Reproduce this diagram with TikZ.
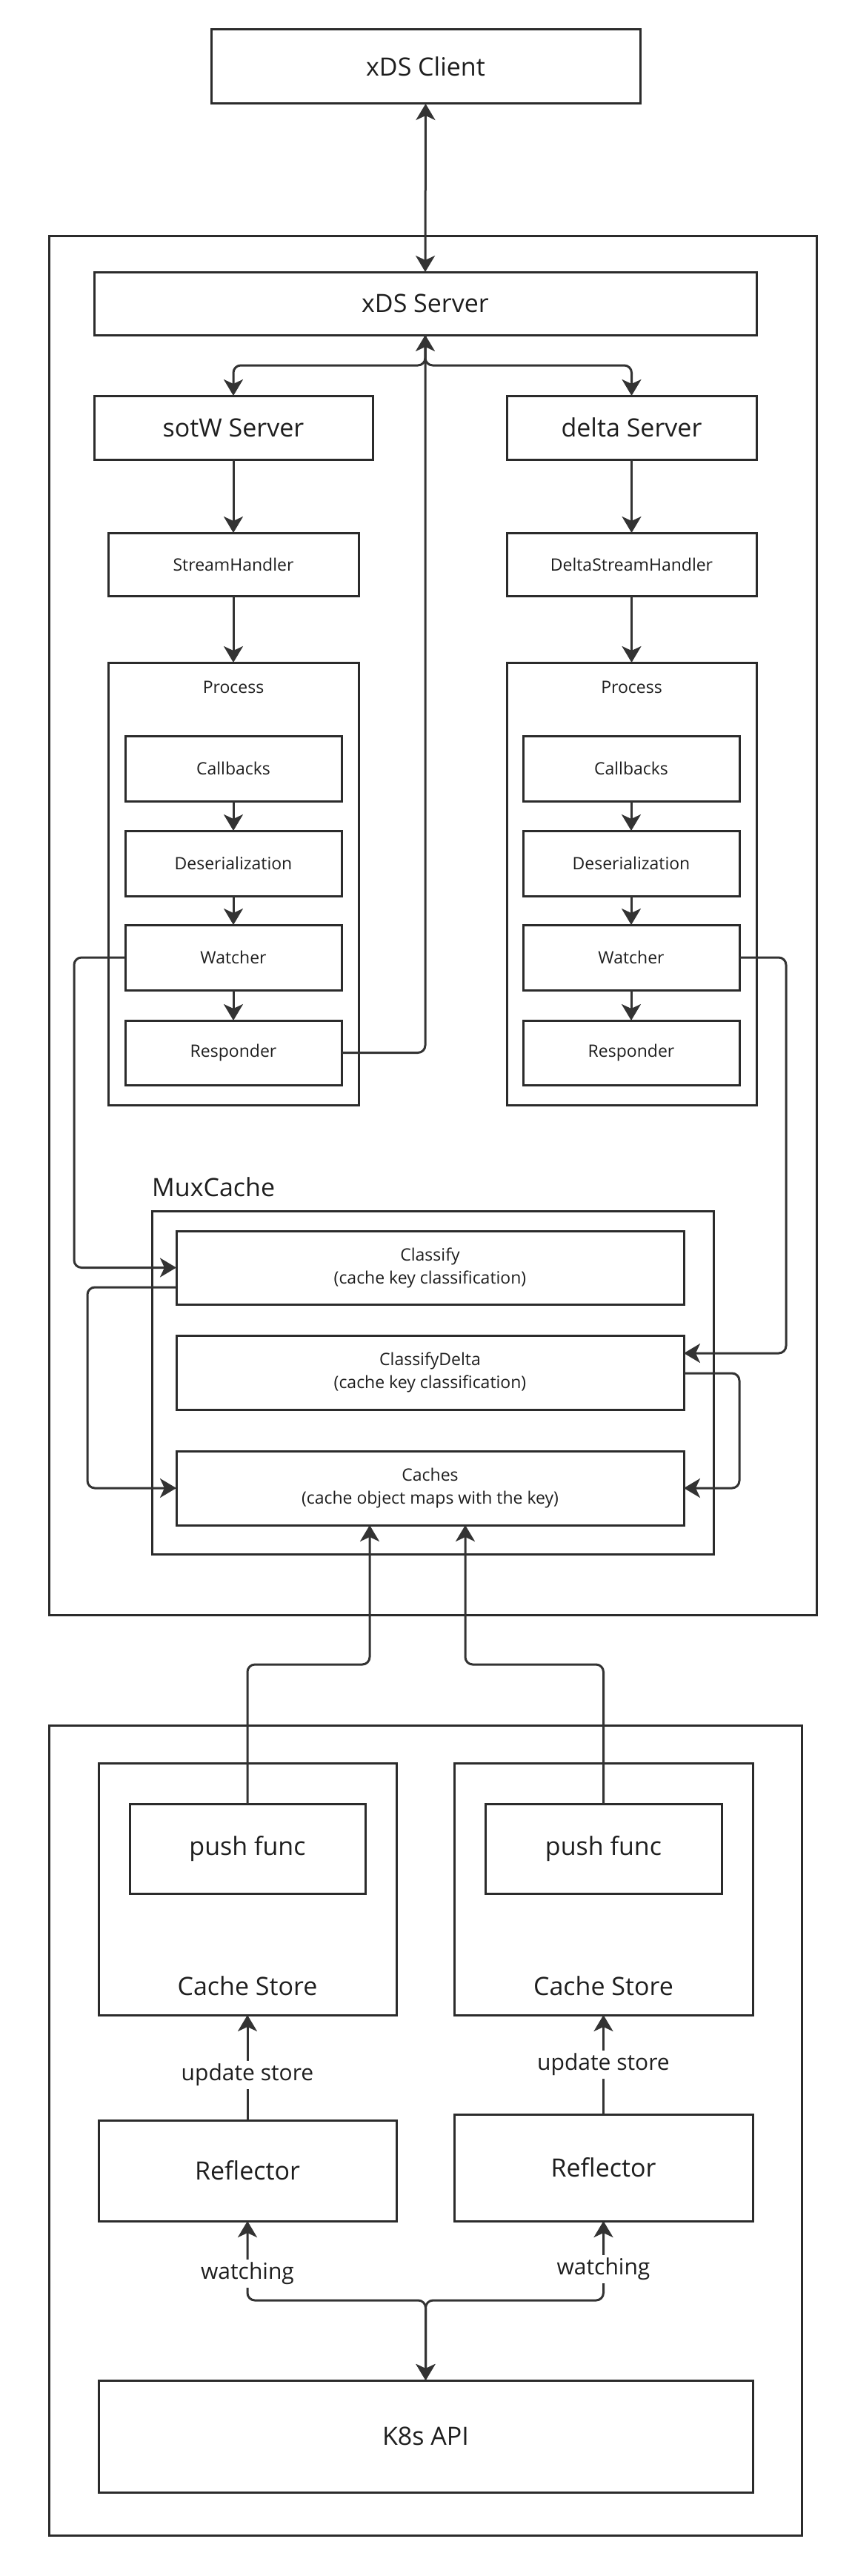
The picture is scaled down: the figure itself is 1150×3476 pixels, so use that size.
\documentclass[tikz,border=0pt]{standalone}
\usepackage{fontspec}
\setmainfont{Open Sans}
\usetikzlibrary{arrows.meta,calc}
\definecolor{ln}{HTML}{2B2B2B}
\definecolor{cn}{HTML}{333333}
\definecolor{tx}{HTML}{1E1E1E}
\begin{document}
\begin{tikzpicture}[x=1pt,y=-1pt,
  box/.style={draw=ln,line width=3pt,rectangle,inner sep=0pt,outer sep=0pt,text=tx,align=center},
  big/.style={font=\fontsize{34}{40}\selectfont},
  small/.style={font=\fontsize{23}{31}\selectfont},
  lbl/.style={text=tx,inner sep=4pt,fill=white,font=\fontsize{30}{36}\selectfont},
  conn/.style={draw=cn,line width=3pt,rounded corners=10pt,-{Stealth[length=22pt,width=26pt,inset=6pt]}},
  dconn/.style={draw=cn,line width=3pt,rounded corners=10pt,{Stealth[length=22pt,width=26pt,inset=6pt]}-{Stealth[length=22pt,width=26pt,inset=6pt]}}]
\useasboundingbox (0,0) rectangle (1150,3476);

% outer frames
\node[box,minimum width=1036pt,minimum height=1861pt] (outerA) at (584,1248.5) {};
\node[box,minimum width=1016pt,minimum height=1093pt] (outerB) at (574,2874.5) {};

% top
\node[box,big,minimum width=579pt,minimum height=100pt] (client) at (574.5,90) {xDS Client};
\node[box,big,minimum width=894pt,minimum height=85pt] (xds) at (574,409.5) {xDS Server};
\node[box,big,minimum width=376pt,minimum height=86pt] (sotw) at (315,577) {sotW Server};
\node[box,big,minimum width=337pt,minimum height=86pt] (delta) at (852.5,577) {delta Server};
\node[box,small,minimum width=338pt,minimum height=85pt] (sh) at (315,761.5) {StreamHandler};
\node[box,small,minimum width=337pt,minimum height=85pt] (dsh) at (852.5,761.5) {DeltaStreamHandler};

% process boxes
\node[box,minimum width=338pt,minimum height=597pt] (procL) at (315,1192.5) {};
\node[box,minimum width=337pt,minimum height=597pt] (procR) at (852.5,1192.5) {};
\node[small,text=tx] (procLt) at (315,927) {Process};
\node[small,text=tx] (procRt) at (852.5,927) {Process};

\node[box,small,minimum width=292pt,minimum height=88pt] (cbL) at (315,1037) {Callbacks};
\node[box,small,minimum width=292pt,minimum height=88pt] (desL) at (315,1165) {Deserialization};
\node[box,small,minimum width=292pt,minimum height=88pt] (watL) at (315,1292) {Watcher};
\node[box,small,minimum width=292pt,minimum height=87pt] (respL) at (315,1420.5) {Responder};

\node[box,small,minimum width=292pt,minimum height=88pt] (cbR) at (852,1037) {Callbacks};
\node[box,small,minimum width=292pt,minimum height=88pt] (desR) at (852,1165) {Deserialization};
\node[box,small,minimum width=292pt,minimum height=88pt] (watR) at (852,1292) {Watcher};
\node[box,small,minimum width=292pt,minimum height=87pt] (respR) at (852,1420.5) {Responder};

% MuxCache
\node[big,text=tx,anchor=west,inner sep=0pt] (muxt) at (205,1602) {MuxCache};
\node[box,minimum width=758pt,minimum height=463pt] (mux) at (584,1865.5) {};
\node[box,small,minimum width=685pt,minimum height=99pt] (classify) at (580.5,1710.5) {Classify\\(cache key classification)};
\node[box,small,minimum width=685pt,minimum height=100pt] (cdelta) at (580.5,1852) {ClassifyDelta\\(cache key classification)};
\node[box,small,minimum width=685pt,minimum height=100pt] (caches) at (580.5,2008) {Caches\\(cache object maps with the key)};

% bottom group
\node[box,minimum width=402pt,minimum height=340pt] (csL) at (334,2549) {};
\node[box,minimum width=403pt,minimum height=340pt] (csR) at (814.5,2549) {};
\node[big,text=tx] (csLt) at (334,2680) {Cache Store};
\node[big,text=tx] (csRt) at (814.5,2680) {Cache Store};
\node[box,big,minimum width=318pt,minimum height=121pt] (pfL) at (334,2494.5) {push func};
\node[box,big,minimum width=319pt,minimum height=121pt] (pfR) at (814.5,2494.5) {push func};
\node[box,big,minimum width=402pt,minimum height=136pt] (refL) at (334,2929) {Reflector};
\node[box,big,minimum width=403pt,minimum height=144pt] (refR) at (814.5,2925) {Reflector};
\node[box,big,minimum width=883pt,minimum height=151pt] (k8s) at (574.5,3287.5) {K8s API};

% connectors top
\draw[dconn] (client.south) -- (xds.north);
\draw[conn] (xds.south) -- ++(0,41) -| (sotw.north);
\draw[conn] (xds.south) -- ++(0,41) -| (delta.north);
\draw[conn] (respL.east) -| (xds.south);
\draw[conn] (sotw.south) -- (sh.north);
\draw[conn] (delta.south) -- (dsh.north);
\draw[conn] (sh.south) -- (procL.north);
\draw[conn] (dsh.south) -- (procR.north);
\draw[conn] (cbL.south) -- (desL.north);
\draw[conn] (desL.south) -- (watL.north);
\draw[conn] (watL.south) -- (respL.north);
\draw[conn] (cbR.south) -- (desR.north);
\draw[conn] (desR.south) -- (watR.north);
\draw[conn] (watR.south) -- (respR.north);

% to MuxCache
\draw[conn] (watL.west) -- ++(-69,0) |- (classify.west);
\draw[conn] (watR.east) -- ++(63,0) |- ($(cdelta.east)+(0,-26)$);
\draw[conn] ($(classify.west)+(0,26.5)$) -- ++(-120,0) |- (caches.west);
\draw[conn] ($(cdelta.east)+(0,1)$) -- ++(75,0) |- (caches.east);

% push funcs to caches
\draw[conn] (pfL.north) -- ++(0,-188) -| ($(caches.south)+(-81.5,0)$);
\draw[conn] (pfR.north) -- ++(0,-188) -| ($(caches.south)+(47.5,0)$);

% update store
\draw[conn] (refL.north) -- node[lbl,pos=0.43] (usL) {update store} (csL.south);
\draw[conn] (refR.north) -- node[lbl,pos=0.5] (usR) {update store} (csR.south);

% watching
\draw[dconn] (refL.south) -- ++(0,107) -| (k8s.north);
\draw[dconn] (refR.south) -- ++(0,107) -| (k8s.north);
\node[lbl] (wL) at ($(refL.south)+(0,71)$) {watching};
\node[lbl] (wR) at ($(refR.south)+(0,65)$) {watching};
\end{tikzpicture}
\end{document}
